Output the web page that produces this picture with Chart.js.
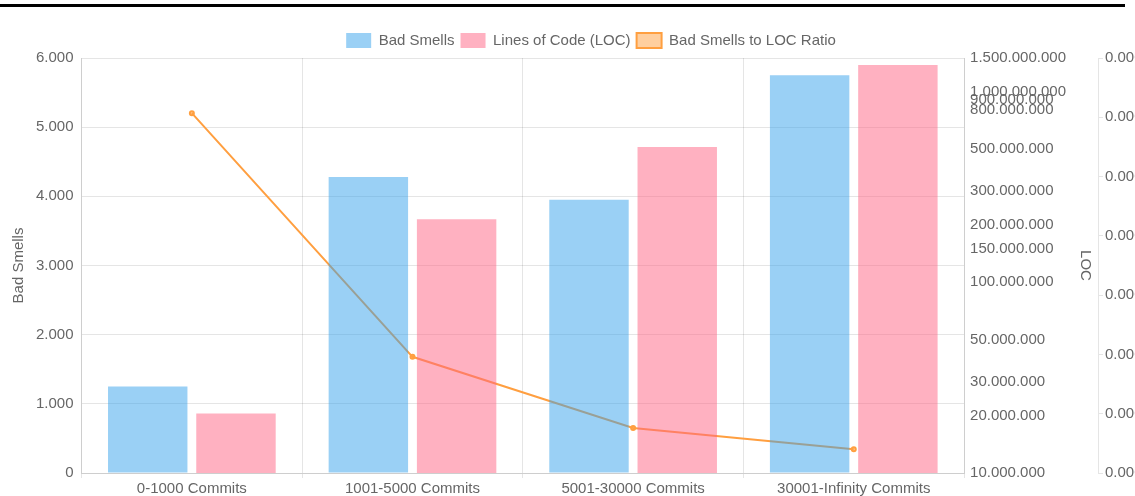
<!DOCTYPE html>
<html>
<head>
<meta charset="utf-8">
<script src="https://cdn.jsdelivr.net/npm/chart.js@4/dist/chart.umd.min.js"></script>
<style>
  html, body { margin: 0; padding: 0; background: #fff; overflow: hidden; }
  .rule { position: absolute; left: 0; top: 4px; width: 1125px; height: 3px; background: #000; }
  .wrap { position: absolute; left: 0; top: 27px; width: 1182px; height: 473px; }
</style>
</head>
<body>
<div class="rule"></div>
<div class="wrap"><canvas id="myChart"></canvas></div>
<script>
const categories = ['0-1000 Commits', '1001-5000 Commits', '5001-30000 Commits', '30001-Infinity Commits'];
const badSmells = [1250, 4280, 3950, 5750];
const linesOfCode = [20500000, 214000000, 512000000, 1379000000];
const smellsPerLoc = [0.0000607, 0.0000196, 0.0000076, 0.0000040];

const ctx = document.getElementById('myChart');

Chart.defaults.font.size = 15;
Chart.defaults.color = '#666';

const config = {
  type: 'bar',
  data: {
    labels: categories,
    datasets: [
      {
        label: 'Bad Smells',
        data: badSmells,
        backgroundColor: 'rgba(54, 162, 235, 0.5)',
        borderWidth: 0,
        yAxisID: 'y'
      },
      {
        label: 'Lines of Code (LOC)',
        data: linesOfCode,
        backgroundColor: 'rgba(255, 99, 132, 0.5)',
        borderWidth: 0,
        yAxisID: 'y1'
      },
      {
        type: 'line',
        label: 'Bad Smells to LOC Ratio',
        data: smellsPerLoc,
        borderColor: 'rgb(255, 159, 64)',
        backgroundColor: 'rgba(255, 159, 64, 0.5)',
        borderWidth: 2,
        pointRadius: 2,
        yAxisID: 'y2'
      }
    ]
  },
  options: {
    responsive: true,
    maintainAspectRatio: false,
    animation: false,
    locale: 'de-DE',
    layout: {
      padding: 0
    },
    plugins: {
      legend: {
        labels: {
          boxWidth: 25,
          boxHeight: 15,
          padding: 6,
          font: { size: 15, lineHeight: 1 }
        }
      }
    },
    scales: {
      x: {
        grid: { tickLength: 5 },
        ticks: { padding: 2 }
      },
      y: {
        position: 'left',
        min: 0,
        max: 6000,
        ticks: { stepSize: 1000, padding: 8 },
        grid: { drawTicks: false },
        title: { display: true, text: 'Bad Smells', padding: { top: 10, bottom: 0 } }
      },
      y1: {
        type: 'logarithmic',
        position: 'right',
        min: 10000000,
        grid: { display: false, drawTicks: false },
        ticks: { padding: 6, autoSkip: false },
        title: { display: true, text: 'LOC' }
      },
      y2: {
        position: 'right',
        min: 0,
        max: 0.00007,
        grid: { drawOnChartArea: false, tickLength: 5 },
        ticks: {
          stepSize: 0.00001,
          padding: 2,
          callback: (value) => value.toFixed(5)
        },
        // room for the ratio labels, which run past the window edge
        afterFit: (axis) => { axis.width = 84; }
      }
    }
  }
};

const myChart = new Chart(ctx, config);
</script>
</body>
</html>
